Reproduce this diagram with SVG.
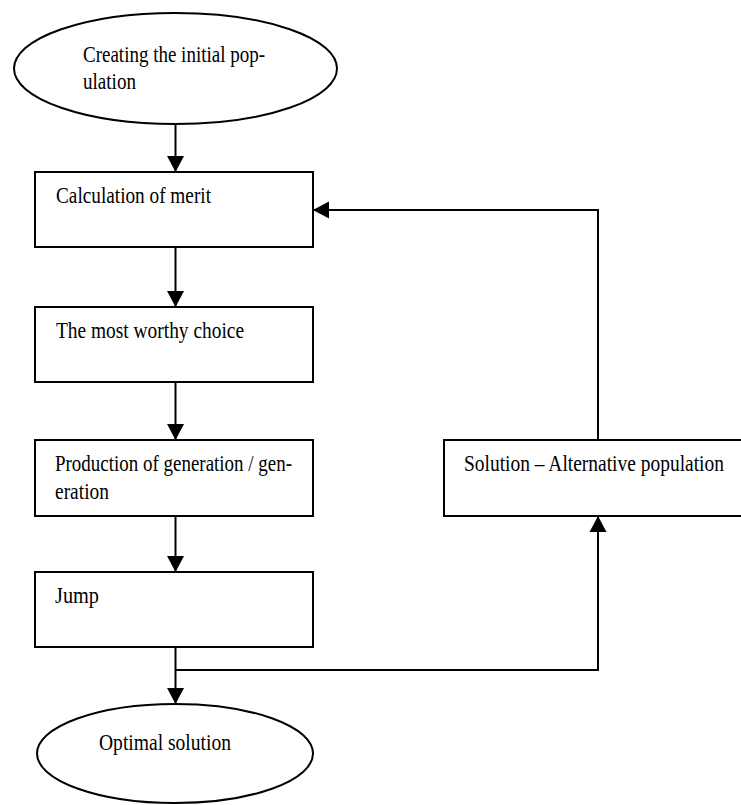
<svg xmlns="http://www.w3.org/2000/svg" width="741" height="805" viewBox="0 0 741 805">
<defs>
<style>
.shape{fill:#fff;stroke:#000;stroke-width:2}
.line{fill:none;stroke:#000;stroke-width:2}
text{font-family:"Liberation Serif","Times New Roman",serif;font-size:23.5px;fill:#000}
</style>
<marker id="arr" markerUnits="userSpaceOnUse" markerWidth="18" markerHeight="18" refX="16" refY="8.5" orient="auto" viewBox="0 0 18 17">
<path d="M0,0 L16,8.5 L0,17 z" fill="#000"/>
</marker>
</defs>
<rect width="741" height="805" fill="#fff"/>
<g id="connectors">
<path class="line" d="M175.5,124 V172" marker-end="url(#arr)"/>
<path class="line" d="M175.5,247 V307" marker-end="url(#arr)"/>
<path class="line" d="M175.5,382 V440" marker-end="url(#arr)"/>
<path class="line" d="M175.5,516 V572" marker-end="url(#arr)"/>
<path class="line" d="M175.5,647 V704" marker-end="url(#arr)"/>
<path class="line" d="M175.5,670 H598 V516" marker-end="url(#arr)"/>
<path class="line" d="M598,440 V210 H313" marker-end="url(#arr)"/>
</g>
<g id="start">
<ellipse class="shape" cx="175.5" cy="68.5" rx="161.5" ry="55.5"/>
<text x="83" y="62" textLength="182" lengthAdjust="spacingAndGlyphs">Creating the initial pop-</text>
<text x="83" y="88.5" textLength="53" lengthAdjust="spacingAndGlyphs">ulation</text>
</g>
<g id="merit">
<rect class="shape" x="35" y="172" width="278" height="75"/>
<text x="56" y="203" textLength="155" lengthAdjust="spacingAndGlyphs">Calculation of merit</text>
</g>
<g id="choice">
<rect class="shape" x="35" y="307" width="278" height="75"/>
<text x="56" y="338" textLength="188" lengthAdjust="spacingAndGlyphs">The most worthy choice</text>
</g>
<g id="production">
<rect class="shape" x="35" y="440" width="278" height="76"/>
<text x="55" y="471" textLength="237" lengthAdjust="spacingAndGlyphs">Production of generation / gen-</text>
<text x="55" y="499" textLength="54" lengthAdjust="spacingAndGlyphs">eration</text>
</g>
<g id="jump">
<rect class="shape" x="35" y="572" width="278" height="75"/>
<text x="55" y="603" textLength="44" lengthAdjust="spacingAndGlyphs">Jump</text>
</g>
<g id="alternative">
<rect class="shape" x="444" y="440" width="330" height="76"/>
<text x="464" y="471" textLength="260" lengthAdjust="spacingAndGlyphs">Solution – Alternative population</text>
</g>
<g id="optimal">
<ellipse class="shape" cx="175" cy="753.5" rx="138" ry="49.5"/>
<text x="99" y="750" textLength="132" lengthAdjust="spacingAndGlyphs">Optimal solution</text>
</g>
</svg>
